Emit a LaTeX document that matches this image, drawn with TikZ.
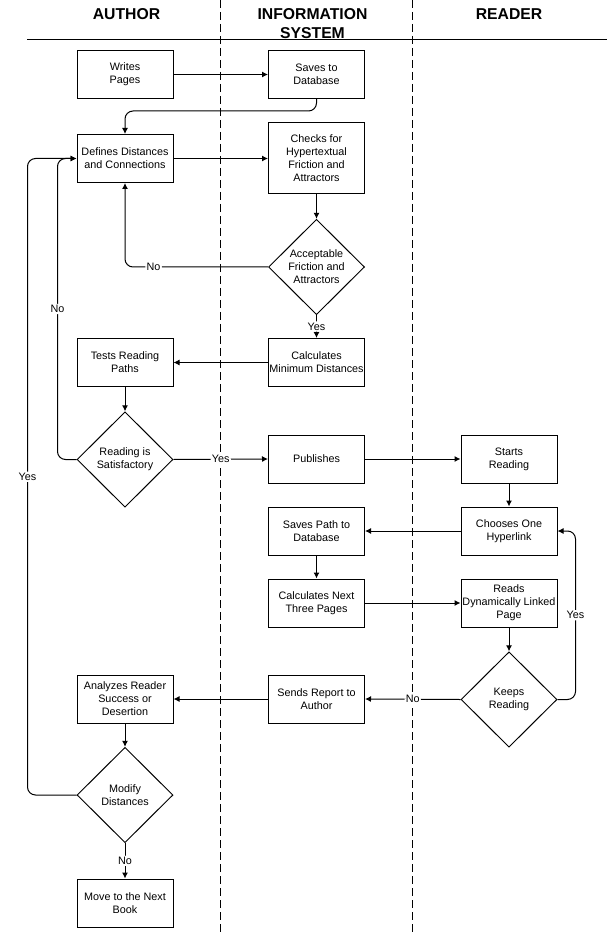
\documentclass[tikz,border=0pt]{standalone}
\usepackage{fontspec}
\setmainfont{Liberation Sans}
\usetikzlibrary{arrows.meta,shapes.geometric}
\begin{document}
\begin{tikzpicture}[x=0.75pt,y=-0.75pt,
 txt/.style={font=\fontsize{8.1}{9.75}\selectfont, align=center},
 box/.style={txt, draw, line width=0.75pt, minimum width=72pt, minimum height=36pt, inner sep=0pt},
 dec/.style={txt, draw, diamond, line width=0.75pt, minimum width=72pt, minimum height=71.5pt, inner sep=0pt},
 arr/.style={line width=0.75pt, -{Latex[length=4.5pt,width=4.5pt]}, rounded corners=6pt},
 lbl/.style={txt, fill=white, inner sep=1pt},
 hdr/.style={font=\fontsize{11.8}{14.25}\selectfont\bfseries, align=center},
 lane/.style={line width=0.75pt, dash pattern=on 6pt off 3pt}]
\useasboundingbox (0,0) rectangle (607,944);
% headers and lanes
\node[hdr] (hA) at (126.5,14) {AUTHOR};
\node[hdr] (hI) at (312.5,23.5) {INFORMATION\\SYSTEM};
\node[hdr] (hR) at (509,14) {READER};
\draw[line width=0.75pt] (27,40) -- (607,40);
\draw[lane] (220,0) -- (220,934);
\draw[lane] (412,0) -- (412,934);
% author column
\node[box] (writes) at (125,74.5) {Writes\\Pages};
\node[box] (defines) at (125,158.5) {Defines Distances\\and Connections};
\node[box] (tests) at (125,362.5) {Tests Reading\\Paths};
\node[dec] (readsat) at (125,459.5) {Reading is\\Satisfactory};
\node[box] (analyzes) at (125,699) {Analyzes Reader\\Success or\\Desertion};
\node[dec] (modify) at (125,795) {Modify\\Distances};
\node[box] (move) at (125,903) {Move to the Next\\Book};
% information system column
\node[box] (saves) at (316.5,74.5) {Saves to\\Database};
\node[box, minimum height=53.25pt] (checks) at (316.5,158.5) {Checks for\\Hypertextual\\Friction and\\Attractors};
\node[dec] (accept) at (316.5,267) {Acceptable\\Friction and\\Attractors};
\node[box] (calcmin) at (316.5,362.5) {Calculates\\Minimum Distances};
\node[box] (publishes) at (316.5,459) {Publishes};
\node[box] (savespath) at (316.5,531) {Saves Path to\\Database};
\node[box] (calcnext) at (316.5,603) {Calculates Next\\Three Pages};
\node[box] (sends) at (316.5,699) {Sends Report to\\Author};
% reader column
\node[box] (starts) at (509,459) {Starts\\Reading};
\node[box] (chooses) at (509,531) {Chooses One\\Hyperlink};
\node[box] (readsdyn) at (509,603) {Reads\\Dynamically Linked\\Page};
\node[dec] (keeps) at (509,699.5) {Keeps\\Reading};
% connectors
\draw[arr] (writes) -- (saves);
\draw[arr] (saves.south) -- ++(0,12) -| (defines.north);
\draw[arr] (defines.east) -- (checks.west |- defines.east);
\draw[arr] (checks) -- (accept);
\draw[arr] (accept.west) -| node[lbl, pos=0.4] {No} (defines.south);
\draw[arr] (accept) -- node[lbl] {Yes} (calcmin);
\draw[arr] (calcmin) -- (tests);
\draw[arr] (tests) -- (readsat);
\draw[arr] (readsat.west) -- ++(-19,0) |- node[lbl, pos=0.25] {No} (defines.west);
\draw[arr] (readsat.east) -- node[lbl] {Yes} (publishes.west);
\draw[arr] (publishes) -- (starts);
\draw[arr] (starts) -- (chooses);
\draw[arr] (chooses) -- (savespath);
\draw[arr] (savespath) -- (calcnext);
\draw[arr] (calcnext) -- (readsdyn);
\draw[arr] (readsdyn) -- (keeps);
\draw[arr] (keeps.east) -- ++(18,0) |- node[lbl, pos=0.25] {Yes} (chooses.east);
\draw[arr] (keeps.west) -- node[lbl] {No} (sends.east);
\draw[arr] (sends) -- (analyzes);
\draw[arr] (analyzes) -- (modify);
\draw[arr] (modify.west) -- ++(-49,0) |- node[lbl, pos=0.25] {Yes} (defines.west);
\draw[arr] (modify) -- node[lbl] {No} (move);
\end{tikzpicture}
\end{document}
